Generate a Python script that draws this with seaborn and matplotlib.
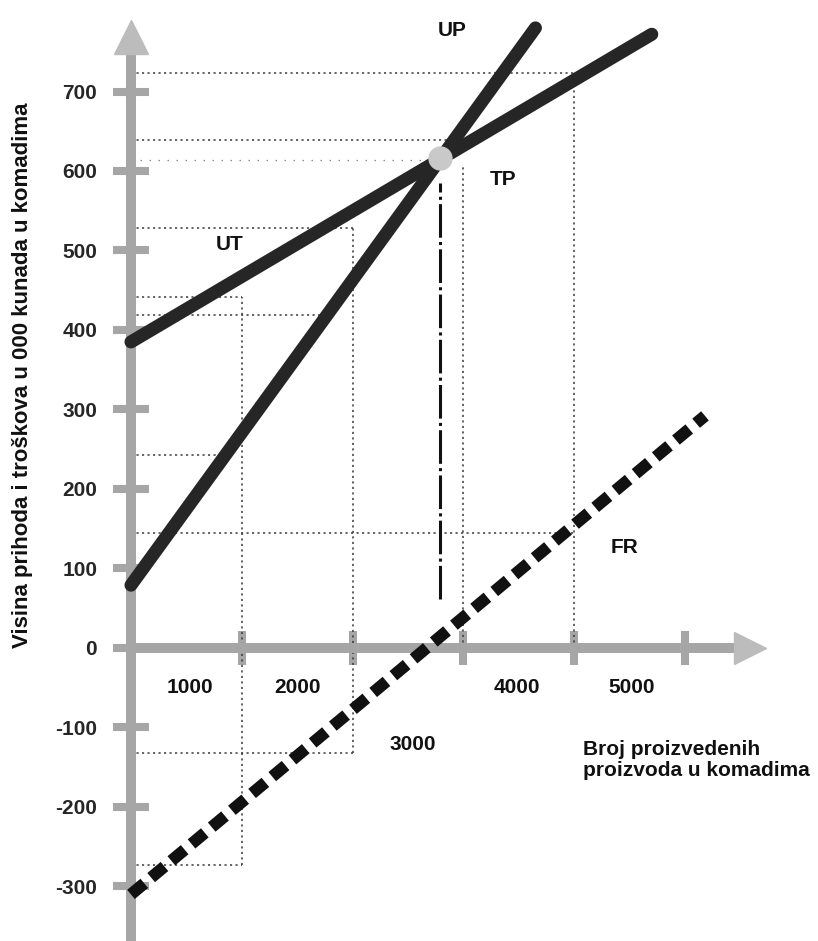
import numpy as np
import pandas as pd
import matplotlib
matplotlib.use("Agg")
import matplotlib.pyplot as plt
import seaborn as sns

# ---------------- data (x: pieces, y: thousand kuna) ----------------
ut_x = [0, 4700]          # UT - total cost
ut_y = [385, 772]
up_x = [0, 3650]          # UP - total revenue
up_y = [79, 780]
fr_x = [0, 5180]          # FR - financial result
fr_y = [-310, 292]

y_ticks = [700, 600, 500, 400, 300, 200, 100, 0, -100, -200, -300]
y_tick_labels = ["700", "600", "500", "400", "300", "200", "100", "0", "-100", "-200", "-300"]
x_ticks = [1000, 2000, 3000, 4000, 5000]
x_tick_labels = ["1000", "2000", "3000", "4000", "5000"]
x_label_x = [530, 1500, 2545, 3485, 4520]
x_label_y = [-50, -50, -122, -50, -50]

line_names = ["UP", "TP", "UT", "FR"]
line_name_x = [2897, 3357, 893, 4458]
line_name_y = [777, 589, 507, 127]

# dotted guide lines
h_guide_y = [723, 639, 528, 441, 419, 243, 145, -132, -273]
h_guide_xend = [4000, 2870, 2000, 1000, 1770, 785, 4000, 2000, 1000]
faint_guide_y = [614]
faint_guide_xend = [2700]
v_guide_x = [1000, 2000, 3000, 4000]
v_guide_ylo = [-273, -132, 0, 0]
v_guide_yhi = [441, 528, 607, 723]
dashdot_y = [62, 585]

# ---------------- style ----------------
sns.set_theme(style="white")
plt.rcParams["font.family"] = ["Liberation Sans", "DejaVu Sans"]
plt.rcParams["font.weight"] = "bold"

fig = plt.figure(figsize=(8.18, 9.41), dpi=100)
ax = fig.add_axes([0, 0, 1, 1])
ax.set_xlim(-1182, 6200)
ax.set_ylim(-368.6, 815.1)

axis_gray = "#a6a6a6"
arrow_gray = "#bcbcbc"
dark = "#262626"

# guides
guide_style = dict(color="#3a3a3a", linewidth=1.1, linestyle=(0, (1.4, 2.2)), zorder=1)
ax.hlines(h_guide_y, 0, h_guide_xend, **guide_style)
ax.hlines(faint_guide_y, 0, faint_guide_xend, color="#8a8a8a", linewidth=0.9,
          linestyle=(0, (1.2, 6)), zorder=1)
ax.vlines(v_guide_x, v_guide_ylo, v_guide_yhi, **guide_style)

# lines via seaborn
df = pd.DataFrame({
    "x": ut_x + up_x,
    "y": ut_y + up_y,
    "serija": ["UT"] * len(ut_x) + ["UP"] * len(up_x),
})
sns.lineplot(data=df, x="x", y="y", hue="serija", palette={"UT": dark, "UP": dark},
             linewidth=9.4, ax=ax, legend=False, solid_capstyle="round",
             sort=False, estimator=None, zorder=3)
sns.lineplot(x=fr_x, y=fr_y, ax=ax, color="#111111", linewidth=8.6,
             linestyle=(0, (1.45, 0.75)), dash_capstyle="butt", zorder=3,
             estimator=None, sort=False)

# break-even
m_ut = (ut_y[1] - ut_y[0]) / (ut_x[1] - ut_x[0])
m_up = (up_y[1] - up_y[0]) / (up_x[1] - up_x[0])
be_x = (ut_y[0] - up_y[0]) / (m_up - m_ut)
be_y = ut_y[0] + m_ut * be_x
ax.vlines([be_x], dashdot_y[0], dashdot_y[1], color="#111111", linewidth=2.2,
          linestyle=(0, (11, 1.4, 1.0, 1.4)), zorder=2)
ax.plot([be_x], [be_y + 2], marker="o", ms=16.5, color="#c9c9c9", mec="#c9c9c9", zorder=4)

# axes as thick gray arrows
for s in ["top", "right"]:
    ax.spines[s].set_visible(False)
ax.spines["left"].set_position(("data", 0))
ax.spines["bottom"].set_position(("data", 0))
ax.spines["left"].set_bounds(-368.6, 760)
ax.spines["bottom"].set_bounds(0, 5450)
for s in ["left", "bottom"]:
    ax.spines[s].set_color(axis_gray)
    ax.spines[s].set_linewidth(7.2)
    ax.spines[s].set_zorder(2.5)
ax.plot([0], [768], marker="^", ms=25, color=arrow_gray, clip_on=False, zorder=2.6)
ax.plot([5590], [0], marker=">", ms=23, color=arrow_gray, clip_on=False, zorder=2.6)

ax.set_yticks(y_ticks, y_tick_labels)
ax.set_xticks(x_ticks, [""] * len(x_ticks))
ax.tick_params(axis="y", which="major", left=True, right=False, direction="inout",
               length=26.6, width=5.8, color=axis_gray, pad=11, labelsize=15)
ax.tick_params(axis="x", which="major", bottom=True, top=False, direction="inout",
               length=24, width=5.8, color=axis_gray)
for t in ax.get_yticklabels():
    t.set_fontweight("bold")
ax.set_xlabel("")
ax.set_ylabel("")
ax.grid(False)

for lab, lx, ly in zip(x_tick_labels, x_label_x, x_label_y):
    ax.text(lx, ly, lab, ha="center", va="center", fontsize=15, fontweight="bold", color="#111111")
for lab, lx, ly in zip(line_names, line_name_x, line_name_y):
    ax.text(lx, ly, lab, ha="center", va="center", fontsize=15, fontweight="bold", color="#111111")

fig.text(0.027, 1 - 375 / 941, "Visina prihoda i troškova u 000 kunada u komadima",
         rotation=90, ha="center", va="center", fontsize=16, fontweight="bold", color="#111111")
fig.text(583 / 818, 1 - 740 / 941, "Broj proizvedenih\nproizvoda u komadima",
         ha="left", va="top", fontsize=15, fontweight="bold", color="#111111", linespacing=1.1)

fig.savefig("out.png", dpi=100)
